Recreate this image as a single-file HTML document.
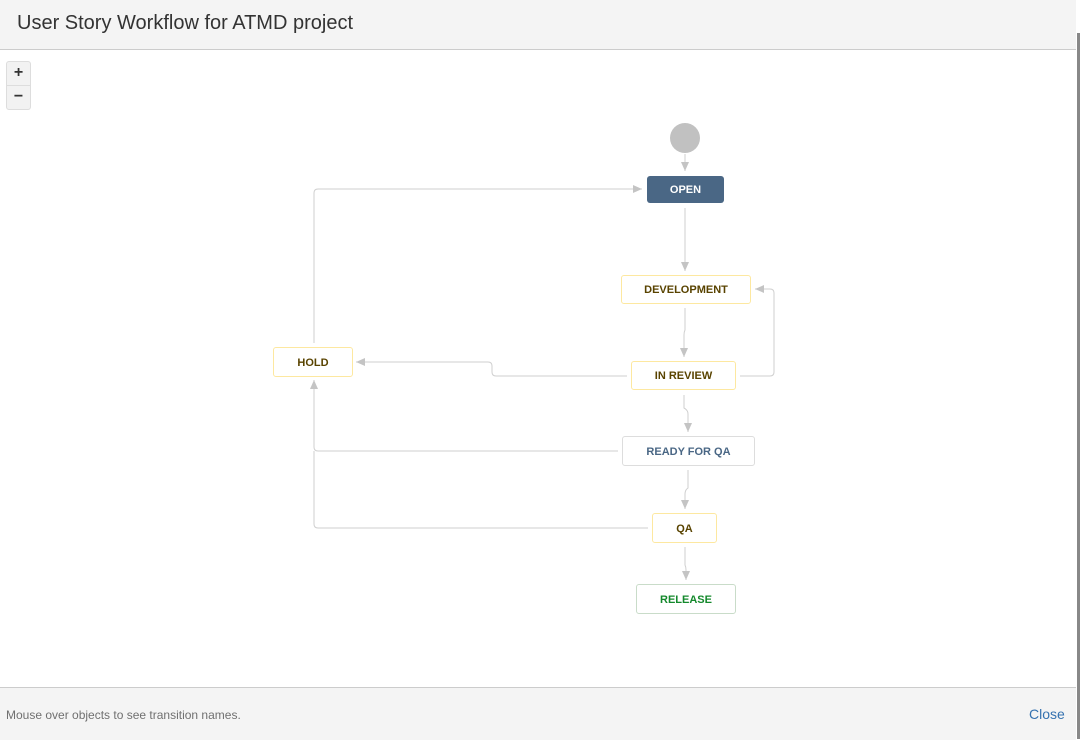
<!DOCTYPE html>
<html><head><meta charset="utf-8"><style>
html,body{margin:0;padding:0;width:1080px;height:739px;overflow:hidden;background:#fff;font-family:"Liberation Sans",Arial,sans-serif;}
.hdr{position:absolute;left:0;top:0;width:1076px;height:49px;background:#f4f4f4;border-bottom:1px solid #ccc;}
.hdr span{position:absolute;left:17px;top:12px;font-size:20px;color:#333;}
.ftr{position:absolute;left:0;top:687px;width:1076px;height:52px;background:#f4f4f4;border-top:1px solid #ccc;}
.ftr .t{position:absolute;left:6px;top:20px;font-size:12px;color:#707070;}
.ftr .c{position:absolute;left:1029px;top:18px;font-size:14px;color:#3572b0;}
.edge{position:absolute;left:1077px;top:33px;width:3px;height:706px;background:#888;}
.zb{position:absolute;left:6px;width:23px;height:23px;background:#f2f2f2;border:1px solid #ddd;font-size:16px;font-weight:bold;text-align:center;line-height:22px;color:#333;}
.n{position:absolute;box-sizing:border-box;border-radius:3px;font-size:11px;font-weight:bold;text-align:center;padding-top:1px;}
</style></head><body>
<div class="hdr"><span>User Story Workflow for ATMD project</span></div>
<div class="zb" style="top:61px;border-radius:3px 3px 0 0">+</div>
<div class="zb" style="top:85px;border-radius:0 0 3px 3px">−</div>
<svg style="position:absolute;left:0;top:0" width="1080" height="739">
<defs><marker id="a" markerWidth="10" markerHeight="10" refX="9" refY="5" orient="auto" markerUnits="userSpaceOnUse"><path d="M0,1 L9,5 L0,9 z" fill="#c4c4c4"/></marker></defs>
<g fill="none" stroke="#cfcfcf" stroke-width="1">
<circle cx="685" cy="138" r="15" fill="#c1c1c1" stroke="none"/>
<path d="M685,154 V171" marker-end="url(#a)"/>
<path d="M685,208 V271" marker-end="url(#a)"/>
<path d="M685,308 V330 Q684,332 684,335 V357" marker-end="url(#a)"/>
<path d="M740,376 H770 Q774,376 774,372 V293 Q774,289 770,289 H755" marker-end="url(#a)"/>
<path d="M627,376 H496 Q492,376 492,372 V366 Q492,362 488,362 H356" marker-end="url(#a)"/>
<path d="M684,395 V408 Q688,410 688,414 V432" marker-end="url(#a)"/>
<path d="M618,451 H318 Q314,451 314,447 V380" marker-end="url(#a)"/>
<path d="M688,470 V488 Q685,490 685,494 V509" marker-end="url(#a)"/>
<path d="M648,528 H318 Q314,528 314,524 V451"/>
<path d="M314,343 V193 Q314,189 318,189 H642" marker-end="url(#a)"/>
<path d="M685,547 V565 Q686,567 686,570 V580" marker-end="url(#a)"/>
</g></svg>
<div class="n" style="left:647px;top:176px;width:77px;height:27px;background:#4a6785;color:#fff;line-height:26px">OPEN</div>
<div class="n" style="left:621px;top:275px;width:130px;height:29px;border:1px solid #fde8a0;color:#594300;line-height:27px">DEVELOPMENT</div>
<div class="n" style="left:631px;top:361px;width:105px;height:29px;border:1px solid #fde8a0;color:#594300;line-height:27px">IN REVIEW</div>
<div class="n" style="left:273px;top:347px;width:80px;height:30px;border:1px solid #fde8a0;color:#594300;line-height:28px">HOLD</div>
<div class="n" style="left:622px;top:436px;width:133px;height:30px;border:1px solid #ddd;color:#4a6785;line-height:28px">READY FOR QA</div>
<div class="n" style="left:652px;top:513px;width:65px;height:30px;border:1px solid #fde8a0;color:#594300;line-height:28px">QA</div>
<div class="n" style="left:636px;top:584px;width:100px;height:30px;border:1px solid #c9dcc9;color:#14892c;line-height:28px">RELEASE</div>
<div class="ftr"><span class="t">Mouse over objects to see transition names.</span><span class="c">Close</span></div>
<div class="edge"></div>
</body></html>
